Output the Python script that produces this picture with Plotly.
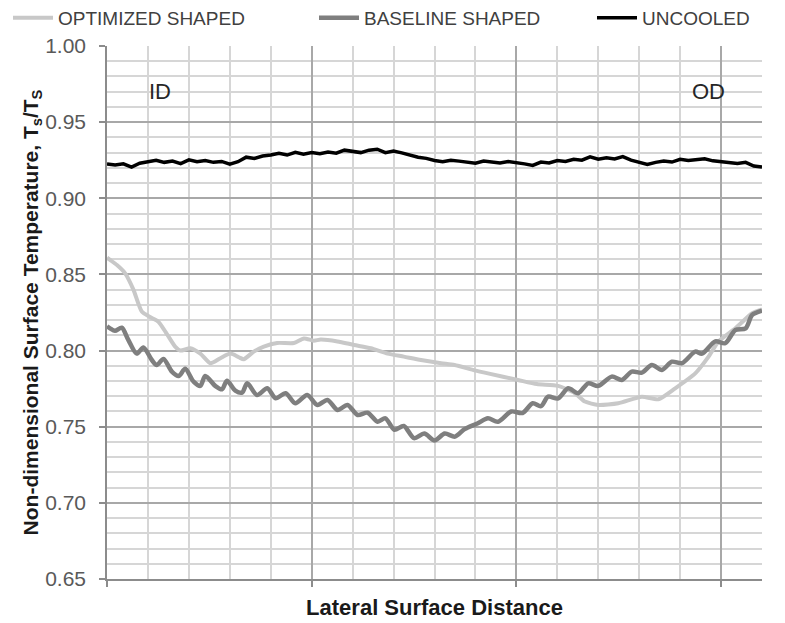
import plotly.graph_objects as go

# lateral position (arbitrary units, axis has no tick labels) and Ts/TS
opt_x = [0.00, 0.015, 0.05, 0.088, 0.129, 0.17, 0.21, 0.251, 0.292, 0.333, 0.358,
         0.407, 0.456, 0.505, 0.554, 0.603, 0.644, 0.668, 0.717, 0.766, 0.831,
         0.913, 0.962, 1.01, 1.044, 1.126, 1.207, 1.289, 1.371, 1.45, 1.534,
         1.632, 1.698, 1.796, 1.861, 2.008, 2.10, 2.204, 2.286, 2.335, 2.40,
         2.498, 2.613, 2.694, 2.776, 2.874, 2.939, 2.988, 3.07, 3.152, 3.2]
opt_y = [0.861, 0.8595, 0.856, 0.8508, 0.840, 0.8256, 0.822, 0.819, 0.811, 0.8026, 0.800,
         0.8015, 0.798, 0.7917, 0.795, 0.798, 0.7956, 0.7943, 0.7993, 0.8026, 0.805,
         0.805, 0.808, 0.8065, 0.8072, 0.806, 0.8037, 0.8015, 0.798, 0.796, 0.7938,
         0.7917, 0.7905, 0.787, 0.785, 0.7807, 0.778, 0.7768, 0.772, 0.7665, 0.7643,
         0.7654, 0.7697, 0.768, 0.7752, 0.785, 0.796, 0.806, 0.8146, 0.8245, 0.827]

base_x = [0.00, 0.015, 0.039, 0.072, 0.104, 0.145, 0.178, 0.219, 0.243, 0.276, 0.317,
          0.35, 0.382, 0.423, 0.456, 0.48, 0.529, 0.562, 0.586, 0.627, 0.66, 0.685,
          0.733, 0.783, 0.824, 0.873, 0.92, 0.978, 1.028, 1.077, 1.126, 1.175,
          1.224, 1.273, 1.322, 1.36, 1.404, 1.45, 1.50, 1.55, 1.60, 1.65, 1.70,
          1.747, 1.812, 1.861, 1.91, 1.975, 2.03, 2.08, 2.12, 2.155, 2.204, 2.253,
          2.302, 2.351, 2.40, 2.466, 2.515, 2.564, 2.613, 2.662, 2.711, 2.76, 2.809,
          2.874, 2.907, 2.972, 3.02, 3.07, 3.12, 3.152, 3.2]
base_y = [0.816, 0.8146, 0.813, 0.815, 0.807, 0.798, 0.802, 0.7938, 0.7905, 0.7945, 0.7862,
          0.7833, 0.788, 0.7796, 0.7768, 0.7833, 0.7768, 0.7746, 0.7802, 0.7737, 0.7724, 0.7785,
          0.7708, 0.7752, 0.7687, 0.772, 0.7654, 0.7708, 0.7643, 0.7676, 0.761, 0.7643,
          0.7577, 0.7592, 0.7533, 0.7555, 0.748, 0.7505, 0.7425, 0.7455, 0.741, 0.7455, 0.7435,
          0.7484, 0.7523, 0.7555, 0.7533, 0.760, 0.759, 0.7654, 0.7635, 0.7697, 0.7686, 0.7752,
          0.772, 0.7785, 0.7768, 0.7829, 0.7807, 0.7862, 0.7855, 0.7905, 0.7873, 0.7927, 0.7917,
          0.7993, 0.798, 0.806, 0.8048, 0.8135, 0.8146, 0.8234, 0.8262]

unc_x = [i * 0.04 for i in range(81)]
unc_y = [0.9225, 0.9218, 0.9226, 0.9205, 0.9230, 0.9238, 0.9250, 0.9236, 0.9244, 0.9228,
         0.9252, 0.9240, 0.9248, 0.9236, 0.9242, 0.9224, 0.9240, 0.9270, 0.9262, 0.9278,
         0.9284, 0.9296, 0.9284, 0.9302, 0.9290, 0.9300, 0.9292, 0.9304, 0.9296, 0.9316,
         0.9306, 0.9300, 0.9316, 0.9322, 0.9300, 0.9310, 0.9298, 0.9282, 0.9270, 0.9262,
         0.9248, 0.9240, 0.9250, 0.9244, 0.9236, 0.9230, 0.9244, 0.9238, 0.9232, 0.9242,
         0.9236, 0.9226, 0.9216, 0.9238, 0.9232, 0.9248, 0.9242, 0.9256, 0.9250, 0.9272,
         0.9256, 0.9266, 0.9258, 0.9274, 0.9250, 0.9234, 0.9222, 0.9236, 0.9244, 0.9238,
         0.9256, 0.9248, 0.9254, 0.9260, 0.9246, 0.9240, 0.9236, 0.9228, 0.9236, 0.9212,
         0.9206]

AX = "#8c8c8c"
MAJ = "#a8a8a8"
MIN = "#d6d6d6"
# the page body keeps its default 8px margin, so the figure is 8px smaller
W, H = 777, 615

fig = go.Figure()
fig.add_trace(go.Scatter(x=opt_x, y=opt_y, name="OPTIMIZED SHAPED", mode="lines",
                         legend="legend",
                         line=dict(color="#c8c8c8", width=4, shape="spline", smoothing=0.6)))
fig.add_trace(go.Scatter(x=base_x, y=base_y, name="BASELINE SHAPED", mode="lines",
                         legend="legend2",
                         line=dict(color="#7f7f7f", width=4.5, shape="spline", smoothing=0.8)))
fig.add_trace(go.Scatter(x=unc_x, y=unc_y, name="UNCOOLED", mode="lines",
                         legend="legend3",
                         line=dict(color="#000000", width=3.5)))

for txt, xv in [("ID", 0.26), ("OD", 2.94)]:
    fig.add_annotation(x=xv, y=0.97, text=txt, showarrow=False,
                       font=dict(family="Liberation Sans, Arial", size=22, color="#262626"))


def leg(px):
    return dict(orientation="h", xref="container", yref="container",
                x=px / W, xanchor="left", y=1 - 10 / H, yanchor="middle",
                font=dict(family="Liberation Sans, Arial", size=19, color="#404040"),
                itemwidth=40, bgcolor="rgba(0,0,0,0)")


fig.update_layout(
    width=W, height=H,
    margin=dict(l=99, r=23, t=38, b=44, autoexpand=False),
    plot_bgcolor="white", paper_bgcolor="white",
    font=dict(family="Liberation Sans, Arial", color="#595959"),
    showlegend=True,
    legend=leg(-6), legend2=leg(306), legend3=leg(584),
    xaxis=dict(range=[0, 3.2], dtick=1, tick0=0, showticklabels=False,
               ticks="outside", ticklen=6, tickcolor=AX, tickwidth=1.5,
               showgrid=True, gridcolor=MAJ, gridwidth=1.5,
               minor=dict(dtick=0.2, showgrid=True, gridcolor=MIN, gridwidth=1.5, ticks=""),
               showline=True, linecolor=AX, linewidth=1.5, zeroline=False, automargin=False,
               title=dict(text="<b>Lateral Surface Distance</b>", standoff=14,
                          font=dict(size=22, color="#1a1a1a"))),
    yaxis=dict(range=[0.65, 1.0], dtick=0.05, tick0=0.65, tickformat=".2f",
               ticks="outside", ticklen=6, tickcolor=AX, tickwidth=1.5,
               ticklabelstandoff=9,
               tickfont=dict(size=21, color="#595959"),
               showgrid=True, gridcolor=MAJ, gridwidth=1.5,
               minor=dict(dtick=0.01, showgrid=True, gridcolor=MIN, gridwidth=1.5, ticks=""),
               showline=True, linecolor=AX, linewidth=1.5, zeroline=False, automargin=False,
               title=dict(text="<b>Non-dimensional Surface Temperature, T<sub>s</sub>/T<sub>S</sub></b>",
                          standoff=0, font=dict(size=21, color="#1a1a1a"))),
)

fig.write_html("out.html")
